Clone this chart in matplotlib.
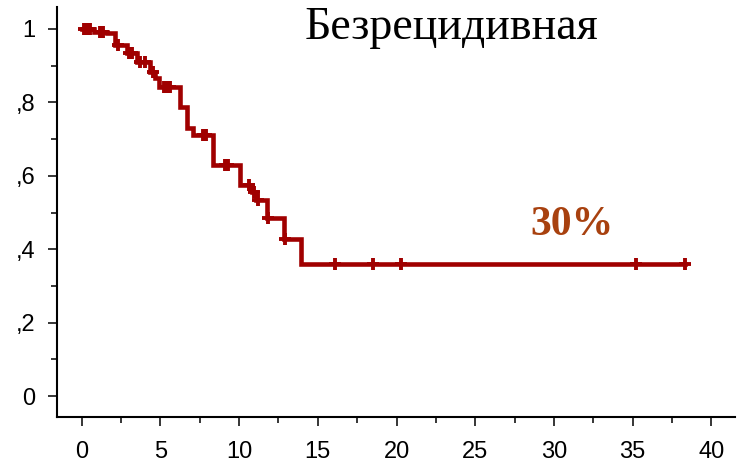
import numpy as np
import matplotlib
matplotlib.use("Agg")
import matplotlib.pyplot as plt
from matplotlib.ticker import MultipleLocator, FixedLocator, FixedFormatter

# Kaplan-Meier estimate: times at which the survival drops, and the level after each drop
step_times = [0.0, 0.75, 1.6, 2.1, 2.85, 3.5, 4.35, 4.65, 4.9, 6.25, 6.7, 7.05,
              8.35, 10.05, 10.8, 11.1, 11.75, 12.85, 13.95]
survival = [1.0, 0.993, 0.988, 0.956, 0.935, 0.911, 0.884, 0.866, 0.841, 0.788,
            0.729, 0.711, 0.629, 0.575, 0.556, 0.534, 0.484, 0.427, 0.359]
last_follow_up = 38.35

# censored observations (months)
censored_times = [0.15, 0.35, 0.55, 1.15, 1.35, 2.3, 3.0, 3.2, 3.7, 4.0, 4.5,
                  5.2, 5.4, 5.6, 7.7, 7.9, 9.1, 9.3, 10.6, 10.95, 11.2, 11.85,
                  12.9, 16.1, 18.5, 20.3, 35.2, 38.35]

y_ticks = [0, 0.2, 0.4, 0.6, 0.8, 1.0]
y_tick_labels = ["0", ",2", ",4", ",6", ",8", "1"]
x_ticks = [0, 5, 10, 15, 20, 25, 30, 35, 40]

title_text = "Безрецидивная"
rate_text = "30%"

curve_color = "#A00000"

fig = plt.figure(figsize=(7.39, 4.63), dpi=100)
ax = fig.add_axes([0.0767, 0.0994, 0.9179, 0.8856])

t_line = list(step_times) + [last_follow_up]
s_line = list(survival) + [survival[-1]]
ax.step(t_line, s_line, where="post", color=curve_color, lw=3.3,
        solid_joinstyle="miter", zorder=3)

idx = np.searchsorted(step_times, censored_times, side="right") - 1
cens_s = np.asarray(survival)[idx]
ax.plot(censored_times, cens_s, linestyle="none", marker="+", ms=8, mew=2.8,
        color=curve_color, zorder=4)

ax.set_xlim(-1.59, 41.5)
ax.set_ylim(-0.057, 1.06)

for side in ("top", "right"):
    ax.spines[side].set_visible(False)
for side in ("left", "bottom"):
    ax.spines[side].set_linewidth(1.5)
    ax.spines[side].set_color("black")

ax.yaxis.set_major_locator(FixedLocator(y_ticks))
ax.yaxis.set_major_formatter(FixedFormatter(y_tick_labels))
ax.yaxis.set_minor_locator(MultipleLocator(0.1))
ax.xaxis.set_major_locator(FixedLocator(x_ticks))
ax.xaxis.set_minor_locator(FixedLocator(np.arange(2.5, 40, 5)))

ax.tick_params(axis="both", which="major", length=6.5, width=1.1, color="black",
               labelsize=17, labelfontfamily="Liberation Sans")
ax.tick_params(axis="both", which="minor", length=4.3, width=1.1, color="black")
ax.tick_params(axis="y", which="major", pad=9)
ax.tick_params(axis="x", which="major", pad=11)

fig.text(0.611, 0.915, title_text, family="Liberation Serif", fontsize=33,
         ha="center", va="baseline", color="black")
fig.text(0.774, 0.493, rate_text, family="Liberation Serif", fontsize=30,
         fontweight="bold", ha="center", va="baseline", color="#A8410F")

fig.savefig("out.png", dpi=100)
